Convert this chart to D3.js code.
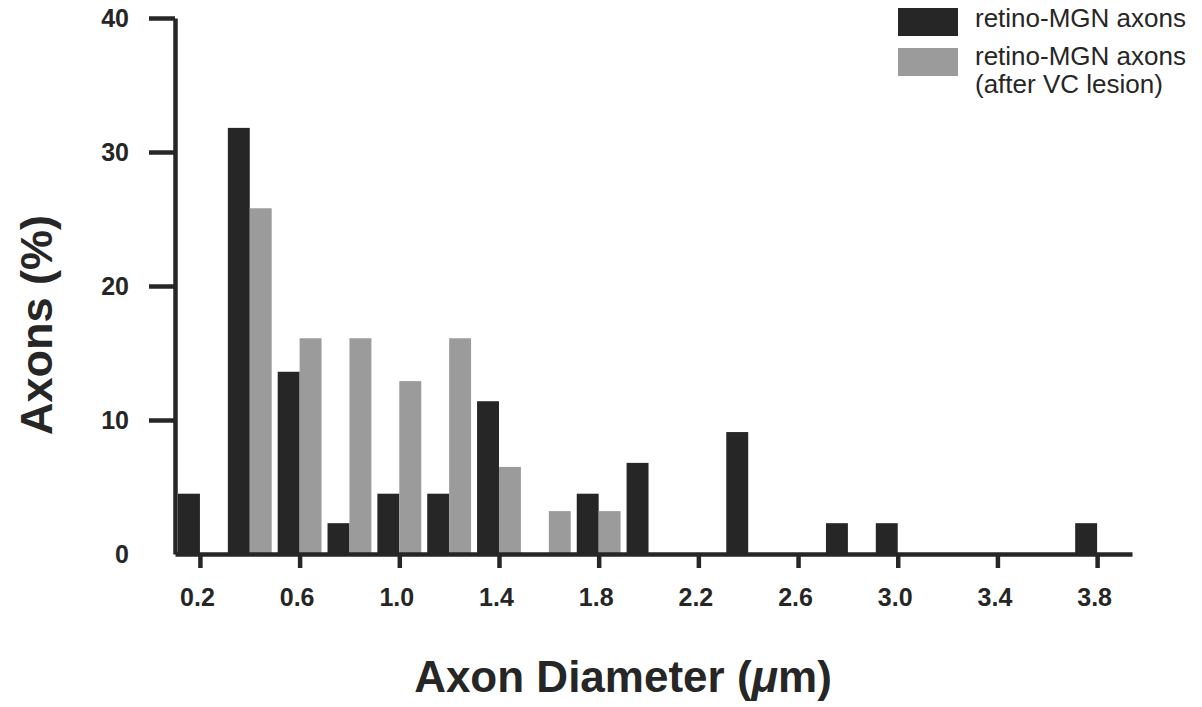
<!DOCTYPE html>
<html>
<head>
<meta charset="utf-8">
<script src="https://cdn.jsdelivr.net/npm/d3@7"></script>
<style>
  body { margin: 0; background: #fff; }
  svg { display: block; font-family: "Liberation Sans", Arial, Helvetica, sans-serif; }
  .axis path, .axis line { stroke: #262626; stroke-width: 4.5px; }
  .axis text { fill: #262626; font-size: 25px; font-weight: bold; }
</style>
</head>
<body>
<div id="chart-area"></div>
<script>
const WIDTH = 1202
const HEIGHT = 707

// bin centres (axon diameter, um)
const bins = [0.2, 0.4, 0.6, 0.8, 1.0, 1.2, 1.4, 1.6, 1.8, 2.0, 2.2, 2.4, 2.6, 2.8, 3.0, 3.2, 3.4, 3.6, 3.8]
// % of axons, retino-MGN
const normal = [4.5, 31.8, 13.6, 2.3, 4.5, 4.5, 11.4, 0, 4.5, 6.8, 0, 9.1, 0, 2.3, 2.3, 0, 0, 0, 2.3]
// % of axons, retino-MGN after VC lesion
const lesion = [0, 25.8, 16.1, 16.1, 12.9, 16.1, 6.5, 3.2, 3.2, 0, 0, 0, 0, 0, 0, 0, 0, 0, 0]

const xTicks = [0.2, 0.6, 1.0, 1.4, 1.8, 2.2, 2.6, 3.0, 3.4, 3.8]
const yTicks = [0, 10, 20, 30, 40]
const seriesNames = ["retino-MGN axons", "retino-MGN axons"]
const seriesColors = ["#262626", "#9b9b9b"]

const svg = d3.select("#chart-area").append("svg")
  .attr("width", WIDTH)
  .attr("height", HEIGHT)

// scales
const x = d3.scaleLinear().domain([0.1, 3.94]).range([175, 1132])
const y = d3.scaleLinear().domain([0, 40]).range([554, 18])
const barW = 0.088

// bars
const rows = bins.map((b, i) => ({ bin: b, normal: normal[i], lesion: lesion[i] }))

svg.append("g").selectAll("rect.normal")
  .data(rows.filter(d => d.normal > 0))
  .join("rect")
  .attr("class", "normal")
  .attr("x", d => x(d.bin - barW))
  .attr("width", d => x(d.bin) - x(d.bin - barW))
  .attr("y", d => y(d.normal))
  .attr("height", d => y(0) - y(d.normal))
  .attr("fill", seriesColors[0])

svg.append("g").selectAll("rect.lesion")
  .data(rows.filter(d => d.lesion > 0))
  .join("rect")
  .attr("class", "lesion")
  .attr("x", d => x(d.bin))
  .attr("width", d => x(d.bin + barW) - x(d.bin))
  .attr("y", d => y(d.lesion))
  .attr("height", d => y(0) - y(d.lesion))
  .attr("fill", seriesColors[1])

// axes
const xAxis = svg.append("g")
  .attr("class", "axis")
  .attr("transform", `translate(0, ${y(0)})`)
  .call(d3.axisBottom(x)
    .tickValues(xTicks)
    .tickFormat(d3.format(".1f"))
    .tickSize(14)
    .tickSizeOuter(0)
    .tickPadding(20))

// labels sit a touch left of their ticks in the original
xAxis.selectAll(".tick text").attr("dx", "-3")

const yAxis = svg.append("g")
  .attr("class", "axis")
  .attr("transform", `translate(${x(0.1)}, 0)`)
  .call(d3.axisLeft(y)
    .tickValues(yTicks)
    .tickSize(26)
    .tickSizeOuter(0)
    .tickPadding(20))

yAxis.selectAll(".tick").filter(d => d === 0).select("line").remove()

// axis titles
svg.append("text")
  .attr("transform", `translate(52, 325) rotate(-90)`)
  .attr("text-anchor", "middle")
  .attr("fill", "#262626")
  .attr("font-size", "45px")
  .attr("font-weight", "bold")
  .text("Axons (%)")

const xTitle = svg.append("text")
  .attr("x", 623)
  .attr("y", 692)
  .attr("text-anchor", "middle")
  .attr("fill", "#262626")
  .attr("font-size", "44px")
  .attr("font-weight", "bold")
xTitle.append("tspan").text("Axon Diameter (")
xTitle.append("tspan").attr("font-style", "italic").text("\u03bc")
xTitle.append("tspan").text("m)")

// legend
const legend = svg.append("g").attr("transform", "translate(898, 8)")
legend.append("rect").attr("x", 0).attr("y", 0).attr("width", 60).attr("height", 28).attr("fill", seriesColors[0])
legend.append("rect").attr("x", 0).attr("y", 40).attr("width", 60).attr("height", 28).attr("fill", seriesColors[1])

const legendText = legend.append("g")
  .attr("font-size", "26px")
  .attr("fill", "#262626")
legendText.append("text").attr("x", 77).attr("y", 19).text(seriesNames[0])
legendText.append("text").attr("x", 77).attr("y", 57).text(seriesNames[1])
legendText.append("text").attr("x", 77).attr("y", 85).text("(after VC lesion)")
</script>
</body>
</html>
